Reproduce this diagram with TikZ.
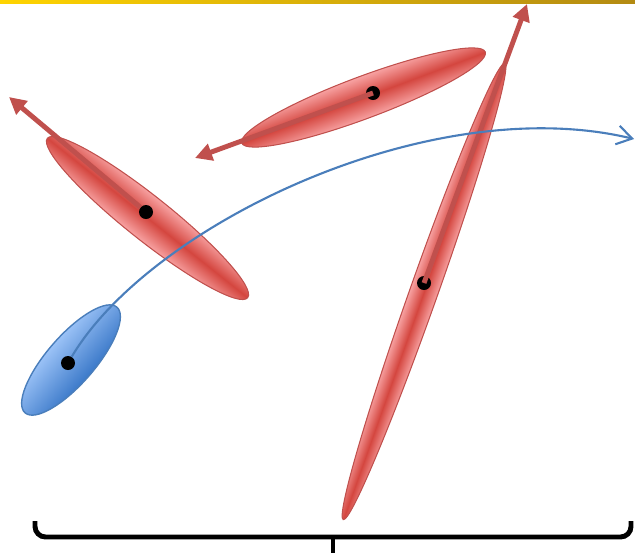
\documentclass[tikz,border=0pt]{standalone}
\usetikzlibrary{arrows.meta}
\definecolor{pptred}{HTML}{C0504D}
\definecolor{pptpink}{HTML}{F8A3A3}
\definecolor{pptredmid}{HTML}{D4463F}
\definecolor{pptblue}{HTML}{4A7EBB}
\definecolor{pptbluelight}{HTML}{9CC3F7}
\definecolor{pptbluedark}{HTML}{3B79C9}
\definecolor{pptgoldl}{HTML}{FFD400}
\definecolor{pptgoldr}{HTML}{B38A12}

\begin{document}
\begin{tikzpicture}[x=0.2mm, y=-0.2mm,
  redleaf/.style={draw=pptred, line width=0.6pt, top color=pptpink, bottom color=pptpink, middle color=pptredmid},
  blueleaf/.style={draw=pptblue, line width=0.8pt, top color=pptbluelight, bottom color=pptbluedark},
  dot/.style={circle, fill=black, inner sep=0pt, minimum size=2.8mm},
  redarrow/.style={pptred, line width=2.8pt, -{Triangle[length=3.4mm, width=3.4mm]}},
  flow/.style={pptblue, line width=1.2pt, -{Straight Barb[length=3mm, width=3.8mm]}},
  brace/.style={black, line width=2.8pt, rounded corners=6}]
  \useasboundingbox (0,0) rectangle (635,556);
  % title bar
  \shade[left color=pptgoldl, right color=pptgoldr] (0,0) rectangle (635,3);
  % blue ellipse
  \begin{scope}[transform canvas={shift={(71,360)}, rotate=49}]
    \shade[blueleaf] (0,0) ellipse[x radius=70, y radius=24];
  \end{scope}
  % red ellipses
  \begin{scope}[transform canvas={shift={(147.5,218)}, rotate=-38.5}]
    \shade[redleaf] (0,0) ellipse[x radius=128, y radius=22];
  \end{scope}
  \begin{scope}[transform canvas={shift={(363.5,97.5)}, rotate=20.5}]
    \shade[redleaf] (0,0) ellipse[x radius=130, y radius=21];
  \end{scope}
  \begin{scope}[transform canvas={shift={(424,291.5)}, rotate=70.5}]
    \shade[redleaf] (0,0) ellipse[x radius=242, y radius=14];
  \end{scope}
  % means
  \node[dot] (bdot) at (68,363) {};
  \node[dot] (rdot1) at (146,212) {};
  \node[dot] (rdot2) at (373,93) {};
  \node[dot] (rdot3) at (424,283) {};
  % principal directions
  \coordinate (tip1) at (9,97);
  \coordinate (tip2) at (195,158);
  \coordinate (tip3) at (527,4);
  \draw[redarrow] (rdot1) -- (tip1);
  \draw[redarrow] (rdot2.center) -- (tip2);
  \draw[redarrow] (rdot3.center) -- (tip3);
  % trajectory
  \coordinate (flowend) at (634,139);
  \draw[flow] (bdot) .. controls (150,225) and (430,90) .. (flowend);
  % bottom brace
  \draw[brace] (35,521) -- (35,537) -- (631,537) -- (631,521);
  \draw[brace] (333,537) -- (333,553);
\end{tikzpicture}
\end{document}
